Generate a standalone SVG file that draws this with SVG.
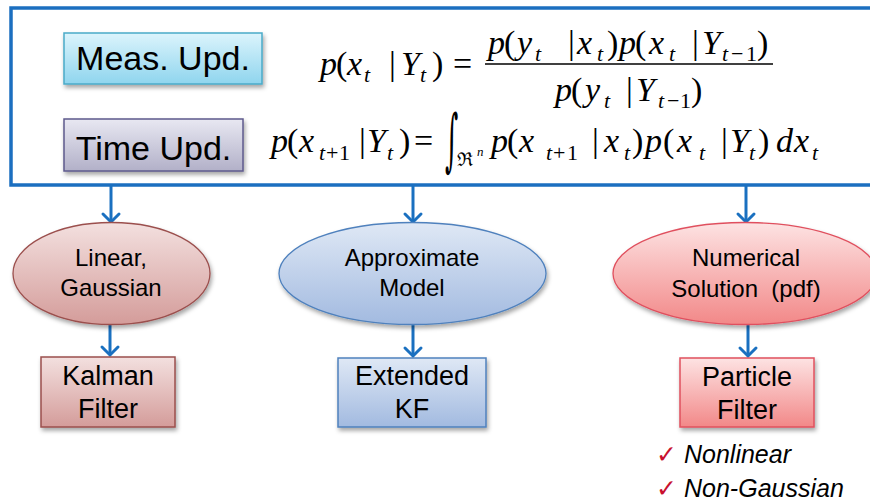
<svg xmlns="http://www.w3.org/2000/svg" width="870" height="504" viewBox="0 0 870 504">
<style>
.lbl{font-family:"Liberation Sans","Arial",sans-serif;fill:#000;text-anchor:middle}
.m{font-family:"Liberation Serif","DejaVu Serif",serif;font-size:34px;fill:#000}
.i{font-style:italic}
.s{font-size:22px}
.conn{stroke:#1a70c0;stroke-width:3;fill:none;marker-end:url(#arr)}
.chk{font-family:"DejaVu Sans",sans-serif;fill:#c8102e;font-size:25px}
.note{font-family:"Liberation Sans","Arial",sans-serif;font-style:italic;font-size:25px;fill:#000}
</style>
<defs>
<linearGradient id="gCyan" x1="0" y1="0" x2="0" y2="1"><stop offset="0" stop-color="#dcf4fc"/><stop offset="1" stop-color="#8fd5ee"/></linearGradient>
<linearGradient id="gLav" x1="0" y1="0" x2="0" y2="1"><stop offset="0" stop-color="#e8e8f2"/><stop offset="1" stop-color="#b2b0c8"/></linearGradient>
<linearGradient id="gRose" x1="0" y1="0" x2="0" y2="1"><stop offset="0" stop-color="#f3e0df"/><stop offset="1" stop-color="#d49c9a"/></linearGradient>
<linearGradient id="gBlue" x1="0" y1="0" x2="0" y2="1"><stop offset="0" stop-color="#dfe8f5"/><stop offset="1" stop-color="#a2bae0"/></linearGradient>
<linearGradient id="gRed" x1="0" y1="0" x2="0" y2="1"><stop offset="0" stop-color="#fde3e3"/><stop offset="1" stop-color="#f28888"/></linearGradient>
<filter id="sh" x="-10%" y="-10%" width="130%" height="140%"><feDropShadow dx="1.5" dy="3" stdDeviation="2" flood-color="#000" flood-opacity="0.35"/></filter>
<marker id="arr" markerUnits="userSpaceOnUse" markerWidth="24" markerHeight="24" viewBox="-12 -12 24 24" refX="0" refY="0" orient="auto">
<path d="M-8,-8 L0,0 L-8,8" fill="none" stroke="#1a70c0" stroke-width="3" stroke-linecap="round" stroke-linejoin="miter"/>
</marker>
</defs>
<rect width="870" height="504" fill="#fff"/>

<g id="frame">
<rect x="11" y="8" width="880" height="177" fill="#fff" stroke="#1b6fc0" stroke-width="3.5"/>
</g>

<g id="meas">
<rect x="64" y="33" width="198" height="51" fill="url(#gCyan)" stroke="#4aaac8" stroke-width="1.5" filter="url(#sh)"/>
<text class="lbl" x="163" y="70" font-size="34">Meas. Upd.</text>
</g>
<g id="time">
<rect x="64" y="119" width="179" height="52" fill="url(#gLav)" stroke="#5e5a8c" stroke-width="1.5" filter="url(#sh)"/>
<text class="lbl" x="153.5" y="160" font-size="34">Time Upd.</text>
</g>

<g id="formula-meas">
<text class="m"><tspan x="320" y="75" class="i">p</tspan><tspan x="336" y="75">(</tspan><tspan x="347" y="75" class="i">x</tspan><tspan x="364" y="82" class="s i">t</tspan><tspan x="389" y="75">|</tspan><tspan x="401" y="75" class="i">Y</tspan><tspan x="420" y="82" class="s i">t</tspan><tspan x="432" y="75">)</tspan><tspan x="453" y="75">=</tspan></text>
<text class="m"><tspan x="488" y="54" class="i">p</tspan><tspan x="504" y="54">(</tspan><tspan x="517" y="54" class="i">y</tspan><tspan x="535" y="61" class="s i">t</tspan><tspan x="568" y="54">|</tspan><tspan x="577" y="54" class="i">x</tspan><tspan x="597" y="61" class="s i">t</tspan><tspan x="607" y="54">)</tspan><tspan x="619" y="54" class="i">p</tspan><tspan x="635" y="54">(</tspan><tspan x="649" y="54" class="i">x</tspan><tspan x="669" y="61" class="s i">t</tspan><tspan x="692" y="54">|</tspan><tspan x="702" y="54" class="i">Y</tspan><tspan x="722" y="61" class="s i">t</tspan><tspan x="731" y="61" class="s">−</tspan><tspan x="746" y="61" class="s">1</tspan><tspan x="757" y="54">)</tspan></text>
<line x1="485" y1="64" x2="773" y2="64" stroke="#000" stroke-width="1.6"/>
<text class="m"><tspan x="555" y="101" class="i">p</tspan><tspan x="571" y="101">(</tspan><tspan x="585" y="101" class="i">y</tspan><tspan x="604" y="108" class="s i">t</tspan><tspan x="626" y="101">|</tspan><tspan x="636" y="101" class="i">Y</tspan><tspan x="658" y="108" class="s i">t</tspan><tspan x="667" y="108" class="s">−</tspan><tspan x="680" y="108" class="s">1</tspan><tspan x="691" y="101">)</tspan></text>
</g>

<g id="formula-time">
<text class="m"><tspan x="271" y="152" class="i">p</tspan><tspan x="287" y="152">(</tspan><tspan x="299" y="152" class="i">x</tspan><tspan x="319" y="160" class="s i">t</tspan><tspan x="326" y="160" class="s">+</tspan><tspan x="339" y="160" class="s">1</tspan><tspan x="359" y="152">|</tspan><tspan x="367" y="152" class="i">Y</tspan><tspan x="387" y="160" class="s i">t</tspan><tspan x="399" y="152">)</tspan><tspan x="414" y="152">=</tspan><tspan x="457" y="166" font-size="19" font-family="DejaVu Serif,serif">ℜ</tspan><tspan x="477" y="156" font-size="13" class="i">n</tspan><tspan x="491" y="152" class="i">p</tspan><tspan x="507" y="152">(</tspan><tspan x="519" y="152" class="i">x</tspan><tspan x="546" y="160" class="s i">t</tspan><tspan x="553" y="160" class="s">+</tspan><tspan x="567" y="160" class="s">1</tspan><tspan x="592" y="152">|</tspan><tspan x="604" y="152" class="i">x</tspan><tspan x="624" y="160" class="s i">t</tspan><tspan x="632" y="152">)</tspan><tspan x="645" y="152" class="i">p</tspan><tspan x="663" y="152">(</tspan><tspan x="677" y="152" class="i">x</tspan><tspan x="699" y="160" class="s i">t</tspan><tspan x="721" y="152">|</tspan><tspan x="730" y="152" class="i">Y</tspan><tspan x="749" y="160" class="s i">t</tspan><tspan x="758" y="152">)</tspan><tspan x="776" y="152" class="i">d</tspan><tspan x="794" y="152" class="i">x</tspan><tspan x="812" y="160" class="s i">t</tspan></text>
<text font-family="DejaVu Serif,serif" font-size="34" transform="translate(445,163) scale(0.75,2)">∫</text>
</g>

<g id="connectors">
<line class="conn" x1="111" y1="186" x2="111" y2="222"/>
<line class="conn" x1="413" y1="186" x2="413" y2="222"/>
<line class="conn" x1="746" y1="186" x2="746" y2="222"/>
<line class="conn" x1="110" y1="325" x2="110" y2="355"/>
<line class="conn" x1="413" y1="325" x2="413" y2="356"/>
<line class="conn" x1="748" y1="325" x2="748" y2="356"/>
</g>

<g id="linear">
<ellipse cx="111.5" cy="273.5" rx="98.5" ry="51" fill="url(#gRose)" stroke="#9b4f4d" stroke-width="1.3" filter="url(#sh)"/>
<text class="lbl" x="111" y="266" font-size="24">Linear,</text>
<text class="lbl" x="111" y="296" font-size="24">Gaussian</text>
</g>
<g id="approx">
<ellipse cx="412.5" cy="273.5" rx="133.5" ry="51" fill="url(#gBlue)" stroke="#4f81bd" stroke-width="1.3" filter="url(#sh)"/>
<text class="lbl" x="412" y="266" font-size="24">Approximate</text>
<text class="lbl" x="412" y="296" font-size="24">Model</text>
</g>
<g id="numerical">
<ellipse cx="745" cy="273.5" rx="132" ry="51" fill="url(#gRed)" stroke="#e0505e" stroke-width="1.3" filter="url(#sh)"/>
<text class="lbl" x="746" y="266" font-size="24">Numerical</text>
<text class="lbl" x="746" y="297" font-size="24">Solution&#160; (pdf)</text>
</g>

<g id="kalman">
<rect x="41" y="357" width="134" height="70" fill="url(#gRose)" stroke="#9b4f4d" stroke-width="1.5" filter="url(#sh)"/>
<text class="lbl" x="108" y="385" font-size="27">Kalman</text>
<text class="lbl" x="108" y="418" font-size="27">Filter</text>
</g>
<g id="ekf">
<rect x="338" y="358" width="148" height="69" fill="url(#gBlue)" stroke="#4f81bd" stroke-width="1.5" filter="url(#sh)"/>
<text class="lbl" x="412" y="385" font-size="27">Extended</text>
<text class="lbl" x="412" y="418" font-size="27">KF</text>
</g>
<g id="particle">
<rect x="680" y="358" width="134" height="69" fill="url(#gRed)" stroke="#e0505e" stroke-width="1.5" filter="url(#sh)"/>
<text class="lbl" x="747" y="386" font-size="27">Particle</text>
<text class="lbl" x="747" y="419" font-size="27">Filter</text>
</g>

<g id="notes">
<text class="chk" x="656" y="463">✓</text>
<text class="note" x="684" y="463">Nonlinear</text>
<text class="chk" x="656" y="497">✓</text>
<text class="note" x="684" y="497">Non-Gaussian</text>
</g>
</svg>
